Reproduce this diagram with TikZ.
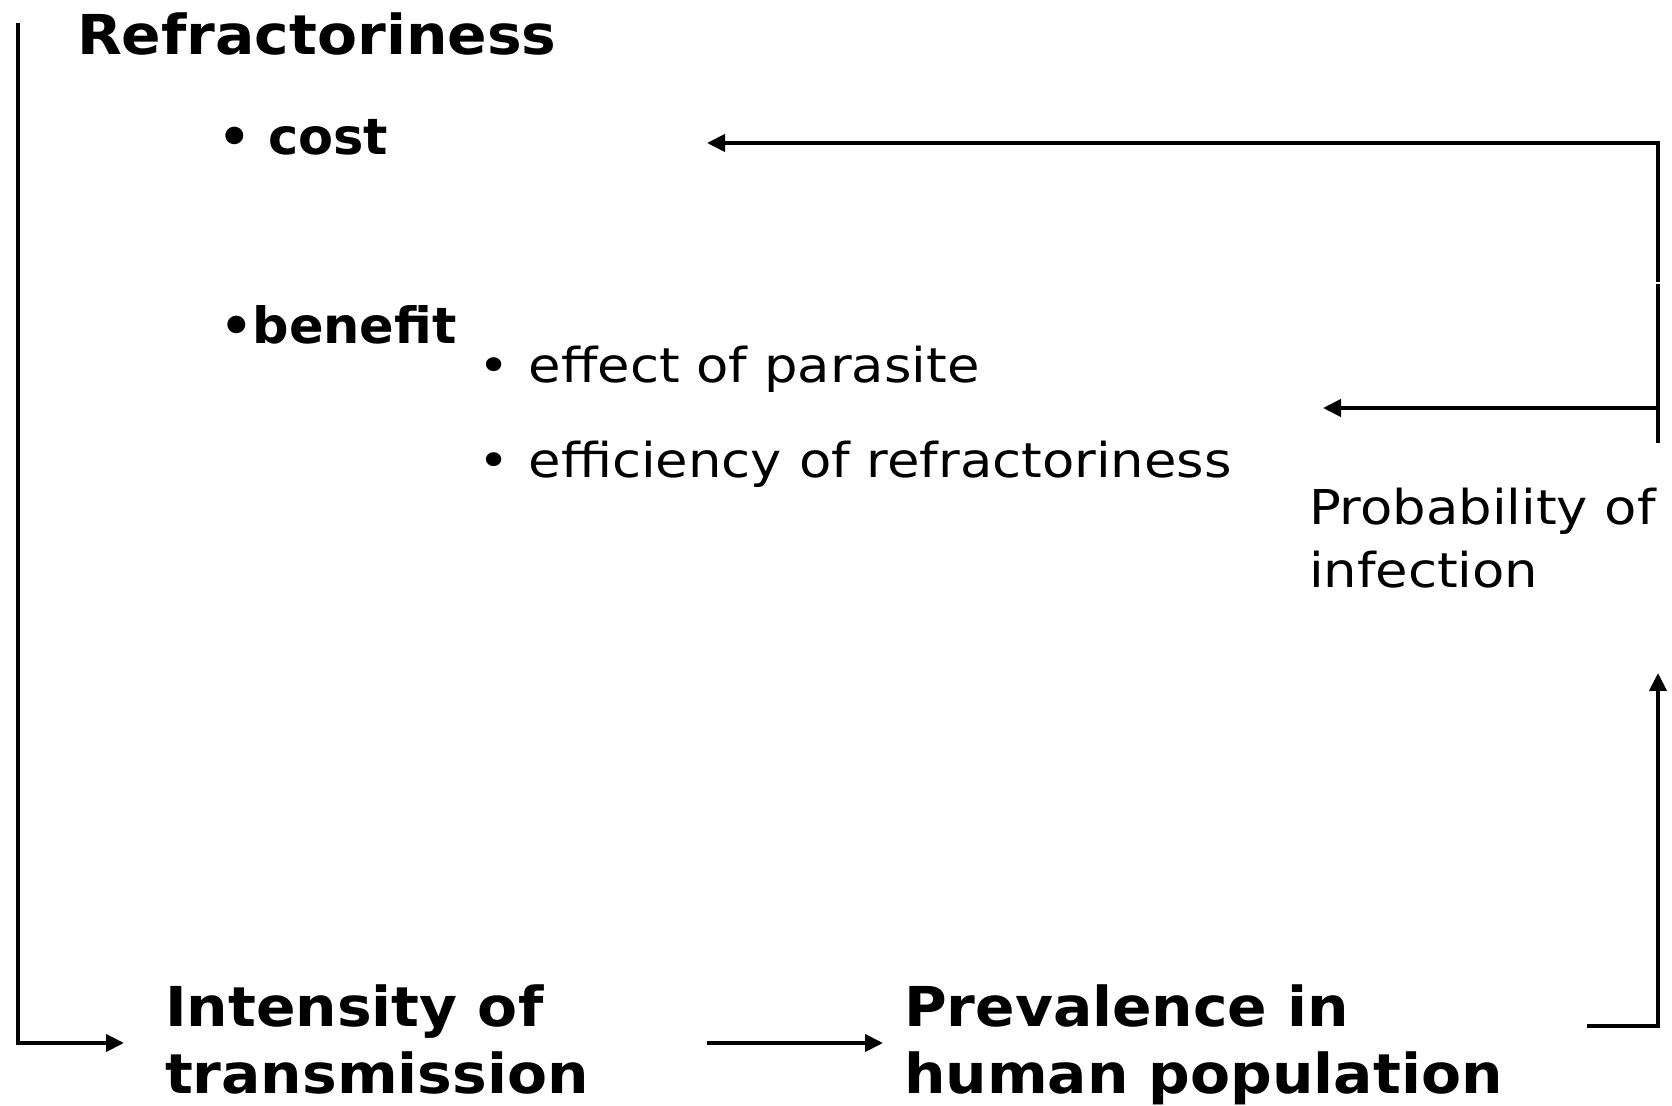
\documentclass[tikz,border=0pt]{standalone}
\usepackage{fontspec}
\setmainfont{DejaVu Sans}
\newfontfamily\wideb[FakeStretch=1.06]{DejaVu Sans Bold}
\newfontfamily\midbf[FakeStretch=1.02]{DejaVu Sans Bold}
\newfontfamily\wider[FakeStretch=1.1]{DejaVu Sans}
\usetikzlibrary{arrows.meta}
\begin{document}
\begin{tikzpicture}[x=0.5pt,y=-0.5pt,
  txt/.style={inner sep=0pt,outer sep=0pt,anchor=base west,align=left},
  bigb/.style={txt,font=\fontsize{27.5}{33.5}\wideb},
  midb/.style={txt,font=\fontsize{25}{30}\midbf},
  small/.style={txt,font=\fontsize{24}{31.5}\wider},
  conn/.style={line width=2pt,line cap=butt},
  arr/.style={conn,-{Triangle[length=9pt,width=8.5pt]}}]
\useasboundingbox (0,0) rectangle (1672,1106);
% texts
\node[bigb] (refr) at (77,55) {Refractoriness};
\node[midb] (cost) at (218,155) {\textbullet\ cost};
\node[midb] (ben) at (220,344) {\textbullet benefit};
\node[small] (eff) at (478,383) {\textbullet\hspace{9.8pt}effect of parasite};
\node[small] (effi) at (478,478) {\textbullet\hspace{9.8pt}efficiency of refractoriness};
\node[small] (prob) at (1309,588) {Probability of\\infection};
\node[bigb] (int) at (165,1093) {Intensity of\\transmission};
\node[bigb] (prev) at (904,1093) {Prevalence in\\human population};
% connector coordinates
\coordinate (l1) at (18,23);
\coordinate (l2) at (18,1043);
\coordinate (l3) at (124,1043);
\coordinate (m1) at (707,1043);
\coordinate (m2) at (883,1043);
\coordinate (r1) at (1587,1026);
\coordinate (r2) at (1658,1026);
\coordinate (r3) at (1658,673);
\coordinate (t1) at (1658,282);
\coordinate (t2) at (1658,143);
\coordinate (t3) at (707,143);
\coordinate (u1) at (1658,284);
\coordinate (u2) at (1658,443);
\coordinate (u3) at (1658,408);
\coordinate (u4) at (1323,408);
% connectors
\draw[arr] (l1) -- (l2) -- (l3);
\draw[arr] (m1) -- (m2);
\draw[arr] (r1) -- (r2) -- (r3);
\draw[arr] (t1) -- (t2) -- (t3);
\draw[conn] (u1) -- (u2);
\draw[arr] (u3) -- (u4);
\end{tikzpicture}
\end{document}
